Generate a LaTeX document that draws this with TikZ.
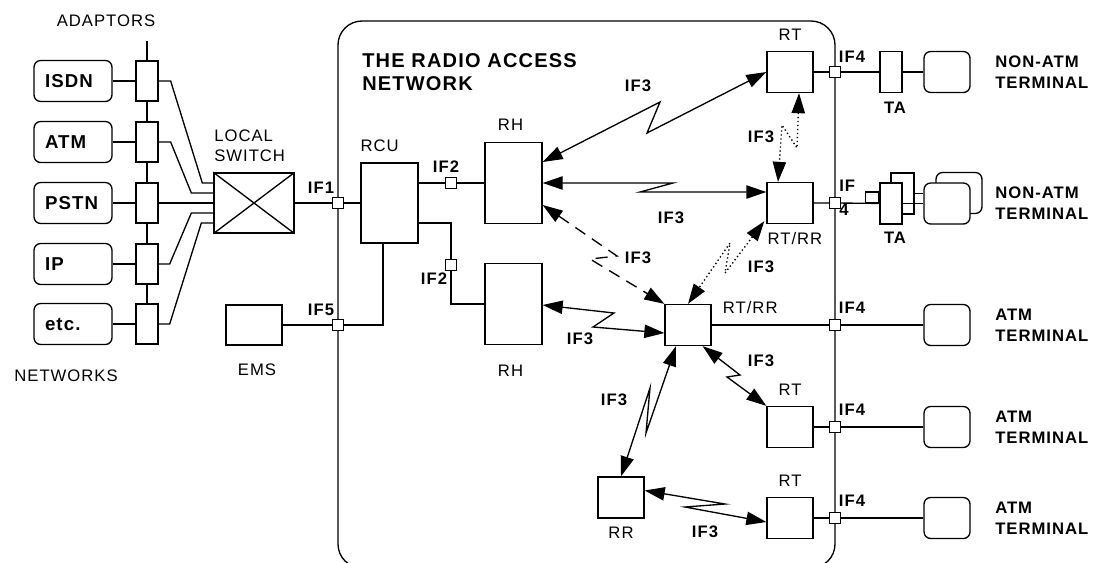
\documentclass[tikz,border=0pt]{standalone}
\usepackage{fontspec}
\setmainfont{Liberation Sans}[LetterSpace=6]
\usetikzlibrary{arrows.meta,calc}
\tikzset{
  ln/.style={line width=1pt, line join=miter},
  bx/.style={draw, line width=1pt, fill=white, inner sep=0pt},
  adbox/.style={bx, minimum width=16.5pt, minimum height=30pt},
  rtbox/.style={bx, minimum width=34.5pt, minimum height=30.75pt},
  tabox/.style={bx, minimum width=16.5pt, minimum height=30.75pt},
  rhbox/.style={bx, minimum width=42.75pt, minimum height=61pt},
  term/.style={bx, rounded corners=5pt, minimum width=34.5pt, minimum height=30.75pt},
  netbox/.style={draw, line width=1pt, fill=white, rounded corners=5pt, minimum height=30.75pt, text width=42pt, align=left, inner xsep=8.25pt, inner ysep=0pt, font=\fontsize{14}{16}\selectfont\bfseries},
  ifsq/.style={draw, fill=white, line width=1pt, minimum size=8.25pt, inner sep=0pt},
  ar/.style={line width=1pt, {Triangle[length=15pt,width=10pt]}-{Triangle[length=15pt,width=10pt]}},
  dsh/.style={dash pattern=on 9pt off 6pt},
  dtt/.style={dash pattern=on 1pt off 2pt},
  nl/.style={font=\fontsize{12.5}{15}\selectfont, inner sep=0pt},
  bl/.style={font=\fontsize{12.5}{16}\selectfont\bfseries, inner sep=0pt},
  ttl/.style={font=\fontsize{15}{17.5}\selectfont\bfseries, inner sep=0pt}
}
\begin{document}
\begin{tikzpicture}[x=0.75pt,y=-0.75pt]
\useasboundingbox (0,0) rectangle (1095,562);

% radio access network boundary
\draw[ln, rounded corners=18pt] (338,21) rectangle (835,568);

% networks and adaptors
\node[netbox] (isdn) at (73,81) {ISDN};
\node[netbox] (atm) at (73,142) {ATM};
\node[netbox] (pstn) at (73,203) {PSTN};
\node[netbox] (ip) at (73,264) {IP};
\node[netbox] (etc) at (73,324) {etc.};
\node[adbox] (ad1) at (147,81) {};
\node[adbox] (ad2) at (147,142) {};
\node[adbox] (ad3) at (147,203) {};
\node[adbox] (ad4) at (147,264) {};
\node[adbox] (ad5) at (147,324) {};
\coordinate (bustop) at (147,41);
\draw[ln] (bustop) -- (ad1.north) (ad1.south) -- (ad2.north) (ad2.south) -- (ad3.north)
  (ad3.south) -- (ad4.north) (ad4.south) -- (ad5.north);
\draw[ln] (isdn) -- (ad1) (atm) -- (ad2) (pstn) -- (ad3) (ip) -- (ad4) (etc) -- (ad5);

% local switch
\node[bx, minimum width=60pt, minimum height=45pt] (sw) at (254,203) {};
\draw[ln] (sw.north west) -- (sw.south east) (sw.north east) -- (sw.south west);
\draw[ln] (ad1.east) -- ++(12,0) -- ($(sw.west)+(-11,-20)$) -- ($(sw.west)+(0,-20)$);
\draw[ln] (ad2.east) -- ++(12,0) -- ($(sw.west)+(-22,-10)$) -- ($(sw.west)+(0,-10)$);
\draw[ln] (ad3) -- (sw);
\draw[ln] (ad4.east) -- ++(11,0) -- ($(sw.west)+(-22,10)$) -- ($(sw.west)+(0,10)$);
\draw[ln] (ad5.east) -- ++(11,0) -- ($(sw.west)+(-12,20)$) -- ($(sw.west)+(0,20)$);

% EMS, RCU, interfaces
\node[bx, minimum width=42pt, minimum height=30pt] (ems) at (254,325) {};
\node[bx, minimum width=42.75pt, minimum height=60pt] (rcu) at (389.5,203) {};
\node[ifsq] (if1) at (338,203) {};
\node[ifsq] (if5) at (338,325) {};
\draw[ln] (sw) -- (if1) -- (rcu);
\draw[ln] (ems) -- (if5);
\draw[ln] ($(rcu.south)+(-6.5,0)$) |- (if5);

% RH
\node[rhbox] (rh1) at (513.5,183) {};
\node[rhbox] (rh2) at (513.5,304) {};
\node[ifsq] (if2a) at (451,183) {};
\node[ifsq] (if2b) at (451,265) {};
\draw[ln] ($(rcu.east)+(0,-20)$) -- (if2a) -- (rh1);
\draw[ln] ($(rcu.east)+(0,20)$) -| (if2b);
\draw[ln] (if2b) |- (rh2);

% RT / RR
\node[rtbox] (rt1) at (790,72) {};
\node[rtbox] (rtrr1) at (790,203) {};
\node[rtbox] (rtrr2) at (688,325) {};
\node[rtbox] (rt2) at (790,427) {};
\node[rtbox] (rt3) at (790,518) {};
\node[rtbox] (rr) at (621,497.5) {};

% IF4 squares
\node[ifsq] (if4a) at (835,72) {};
\node[ifsq] (if4b) at (835,203) {};
\node[ifsq] (if4c) at (835,325) {};
\node[ifsq] (if4d) at (835,427) {};
\node[ifsq] (if4e) at (835,518) {};

% terminal adaptors and terminals
\node[tabox] (ta1) at (891,72) {};
\node[term] (t1) at (947,72) {};
\draw[ln] (rt1) -- (if4a) -- (ta1) -- (t1);

\node[tabox, minimum width=17.25pt] (ta2b) at (902.5,193.5) {};
\node[term] (t2b) at (959,193) {};
\node[tabox] (ta2) at (891,203.5) {};
\node[bx, minimum width=9.75pt, minimum height=8.25pt, anchor=south east] (ta2s) at (ta2.west) {};
\node[term] (t2) at (947,203.5) {};
\draw[ln] (rtrr1) -- (if4b) -- (ta2);
\draw[ln] (ta2b.east) -- (ta2b.east -| t2.west);
\draw[ln] (ta2.east) -- (t2.west);

\node[term] (t3) at (947,325) {};
\node[term] (t4) at (947,427) {};
\node[term] (t5) at (947,518) {};
\draw[ln] (rtrr2) -- (if4c) -- (t3);
\draw[ln] (rt2) -- (if4d) -- (t4);
\draw[ln] (rt3) -- (if4e) -- (t5);

% IF3 radio links
\draw[ar] ($(rh1.east)+(0,-21)$) -- (660,102) -- (647,133) -- (rt1.west);
\draw[ar] (rh1.east) -- (673,183) -- (640,192) -- ($(rtrr1.west)+(0,-11)$);
\draw[ar, dsh] ($(rh1.east)+(0,22)$) -- (617,256) -- (590,259) -- (rtrr2.north west);
\draw[ar, dtt] ($(rt1.south)+(9,0)$) -- (797,148) -- (782,125) -- ($(rtrr1.north)+(-12,0)$);
\draw[ar, dtt] ($(rtrr1.south west)+(-2,-3)$) -- (725,273) -- (730,243) -- (rtrr2.north);
\draw[ar] ($(rh2.east)+(0,1)$) -- (614,313) -- (593,327) -- ($(rtrr2.west)+(0,8)$);
\draw[ar] ($(rtrr2.south east)+(-9,0)$) -- (740,375) -- (727,377) -- (rt2.north west);
\draw[ar] ($(rtrr2.south)+(-12,0)$) -- (646,433) -- (650,388) -- (rr.north);
\draw[ar] ($(rr.east)+(0,-7)$) -- (725,504) -- (685,507) -- ($(rt3.west)+(0,4)$);

% plain labels
\node[nl, anchor=north] at (106,15) {ADAPTORS};
\node[nl, anchor=north] at (66,370) {NETWORKS};
\node[nl, anchor=north west, align=left] at (214,130) {LOCAL\\SWITCH};
\node[nl, anchor=base west] at ($(rcu.north west)+(0,-11)$) {RCU};
\node[nl, anchor=base] at ($(rh1.north)+(-3,-11)$) {RH};
\node[nl, anchor=base] at ($(rh2.south)+(-3,31)$) {RH};
\node[nl, anchor=base] at ($(ems.south)+(3,30)$) {EMS};
\node[nl, anchor=base] at ($(rt1.north)+(0,-10)$) {RT};
\node[nl, anchor=base west] at ($(rtrr1.south west)+(1,20)$) {RT/RR};
\node[nl, anchor=base west] at ($(rtrr2.north east)+(11,10)$) {RT/RR};
\node[nl, anchor=base] at ($(rt2.north)+(0,-10)$) {RT};
\node[nl, anchor=base] at ($(rt3.north)+(0,-10)$) {RT};
\node[nl, anchor=base] at ($(rr.south)+(0,20)$) {RR};

% bold labels
\node[ttl, anchor=north west, align=left] at (362,53) {THE RADIO ACCESS\\NETWORK};
\node[bl] at (321,188) {IF1};
\node[bl] at (321,310) {IF5};
\node[bl] at (446,167) {IF2};
\node[bl] at (434,279) {IF2};
\node[bl] at (852,57) {IF4};
\node[bl, anchor=north west, align=left, font=\fontsize{12.5}{18}\selectfont\bfseries] at (839,180) {IF\\4};
\node[bl] at (852,308) {IF4};
\node[bl] at (852,410) {IF4};
\node[bl] at (852,501) {IF4};
\node[bl, anchor=base] at ($(ta1.south)+(4,20)$) {TA};
\node[bl, anchor=base] at ($(ta2.south)+(4,19)$) {TA};
\node[bl] at (638,86) {IF3};
\node[bl] at (671,218) {IF3};
\node[bl] at (638,258) {IF3};
\node[bl] at (761,137) {IF3};
\node[bl] at (761,267) {IF3};
\node[bl] at (580,339) {IF3};
\node[bl] at (761,361) {IF3};
\node[bl] at (614,400) {IF3};
\node[bl] at (705,532) {IF3};
\node[bl, anchor=west, align=left] at (995,72) {NON-ATM\\TERMINAL};
\node[bl, anchor=west, align=left] at (995,203) {NON-ATM\\TERMINAL};
\node[bl, anchor=west, align=left] at (995,325) {ATM\\TERMINAL};
\node[bl, anchor=west, align=left] at (995,427) {ATM\\TERMINAL};
\node[bl, anchor=west, align=left] at (995,518) {ATM\\TERMINAL};
\end{tikzpicture}
\end{document}
